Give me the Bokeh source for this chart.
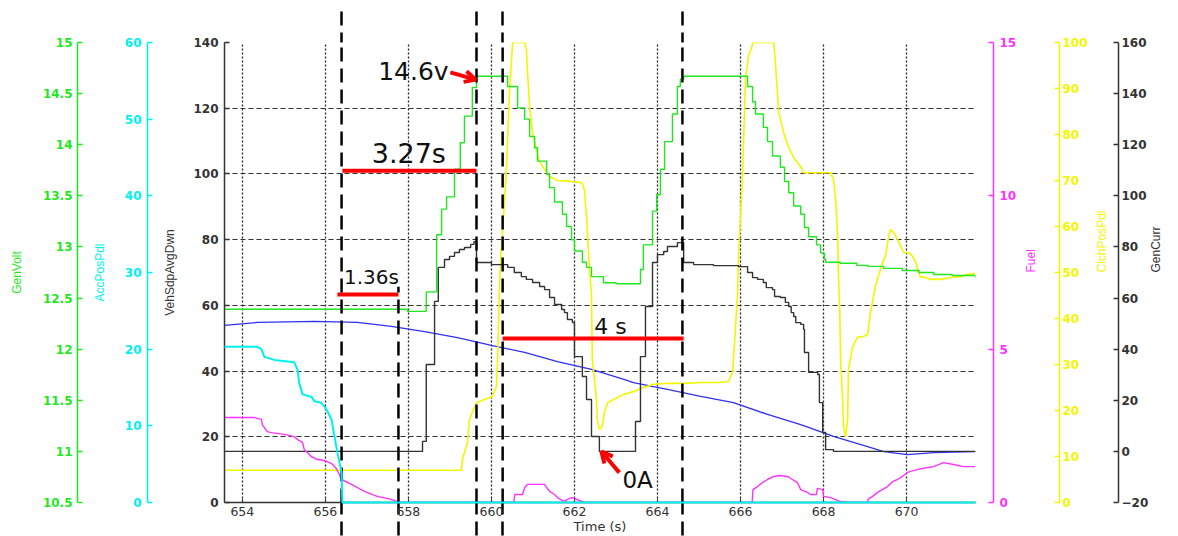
import math
from bokeh.plotting import figure
from bokeh.models import (Range1d, LinearAxis, FixedTicker, Arrow, OpenHead,
                          ColumnDataSource, CustomJSTickFormatter)
from bokeh.core.properties import value
from bokeh.embed import file_html
from bokeh.resources import INLINE

# ---------------- data ----------------
x_ticks = [654, 656, 658, 660, 662, 664, 666, 668, 670]
veh_ticks = [0, 20, 40, 60, 80, 100, 120, 140]
volt_ticks = [10.5, 11, 11.5, 12, 12.5, 13, 13.5, 14, 14.5, 15]
acc_ticks = [0, 10, 20, 30, 40, 50, 60]
fuel_ticks = [0, 5, 10, 15]
clch_ticks = [0, 10, 20, 30, 40, 50, 60, 70, 80, 90, 100]
curr_ticks = [-20, 0, 20, 40, 60, 80, 100, 120, 140, 160]

gen_volt = [
    (653.57, 12.39), (657.98, 12.37), (658.43, 12.56), (658.68, 13.12), (658.80, 13.37),
    (658.92, 13.49), (659.11, 13.76), (659.25, 14.02), (659.35, 14.28), (659.54, 14.56),
    (659.64, 14.67), (660.39, 14.57), (660.63, 14.36), (660.80, 14.25), (660.92, 14.08),
    (661.04, 13.97), (661.11, 13.84), (661.33, 13.71), (661.40, 13.58), (661.52, 13.44),
    (661.71, 13.32), (661.81, 13.20), (661.93, 13.07), (662.00, 12.96), (662.19, 12.85),
    (662.29, 12.80), (662.41, 12.71), (662.70, 12.65), (663.00, 12.64), (663.59, 12.78),
    (663.66, 13.02), (663.88, 13.35), (663.98, 13.51), (664.07, 13.76), (664.17, 14.03),
    (664.36, 14.30), (664.48, 14.57), (664.55, 14.64), (664.63, 14.67), (666.17, 14.57),
    (666.29, 14.42), (666.36, 14.30), (666.55, 14.17), (666.65, 14.03), (666.77, 13.89),
    (666.96, 13.78), (667.06, 13.64), (667.16, 13.53), (667.28, 13.40), (667.45, 13.32),
    (667.54, 13.19), (667.64, 13.10), (667.83, 13.02), (667.93, 12.94), (668.02, 12.88),
    (668.05, 12.85), (668.40, 12.84), (668.80, 12.82), (669.06, 12.81), (669.45, 12.79),
    (669.90, 12.77), (670.30, 12.75), (670.65, 12.73), (671.10, 12.72), (671.66, 12.70)]

gen_curr = [
    (653.57, 0.0), (658.34, 3.9), (658.43, 34.0), (658.63, 58.7), (658.72, 72.0),
    (658.87, 75.1), (658.99, 76.3), (659.11, 77.8), (659.23, 79.0), (659.35, 79.8),
    (659.50, 81.0), (659.58, 82.1), (659.64, 73.9), (660.00, 73.1), (660.39, 72.0),
    (660.55, 70.0), (660.72, 68.4), (660.84, 67.3), (660.99, 66.1), (661.16, 64.5),
    (661.28, 63.3), (661.40, 60.2), (661.52, 57.5), (661.69, 55.5), (661.76, 54.3),
    (661.83, 51.6), (661.95, 50.4), (662.00, 37.1), (662.19, 29.3), (662.29, 20.3),
    (662.41, 5.8), (662.60, 0.0), (663.47, 11.7), (663.59, 37.1), (663.71, 56.7),
    (663.88, 73.9), (664.00, 77.0), (664.15, 78.2), (664.24, 80.2), (664.48, 81.7),
    (664.63, 73.9), (664.87, 73.1), (665.35, 72.7), (665.95, 72.3), (666.17, 70.0),
    (666.29, 68.0), (666.41, 67.3), (666.55, 66.1), (666.62, 64.1), (666.77, 63.3),
    (666.82, 60.6), (666.96, 60.2), (667.08, 58.3), (667.16, 56.7), (667.22, 54.3),
    (667.28, 52.8), (667.33, 50.4), (667.45, 49.7), (667.52, 47.7), (667.54, 38.7),
    (667.64, 30.9), (667.86, 30.1), (667.90, 19.1), (667.98, 7.4), (668.05, 0.7),
    (668.24, 0.0), (671.66, 0.0)]

veh_spd = [
    (653.57, 53.9), (654.36, 54.8), (655.75, 55.1), (656.77, 54.8), (657.59, 53.6),
    (658.39, 52.0), (659.18, 50.2), (660.00, 47.8), (660.80, 45.7), (661.59, 42.9),
    (662.41, 40.5), (663.21, 37.4), (663.42, 36.5), (664.24, 34.4), (665.04, 32.3),
    (665.83, 30.4), (666.65, 26.8), (667.45, 23.7), (668.24, 20.1), (669.06, 17.0),
    (669.45, 15.5), (670.02, 14.6), (670.65, 15.2), (671.66, 15.5)]

acc_pos = [
    (653.57, 20.3), (654.36, 20.3), (654.46, 20.0), (654.53, 19.0), (654.77, 18.6),
    (655.25, 18.3), (655.33, 17.3), (655.37, 15.6), (655.45, 14.1), (655.66, 13.8),
    (655.74, 13.2), (655.90, 13.0), (655.98, 12.5), (656.05, 11.9), (656.15, 10.8),
    (656.22, 8.6), (656.29, 6.5), (656.39, 3.9), (656.41, 0.0), (671.66, 0.0)]

fuel = [
    (653.57, 2.77), (654.29, 2.77), (654.46, 2.71), (654.48, 2.54), (654.60, 2.31),
    (654.70, 2.28), (655.01, 2.22), (655.25, 2.15), (655.33, 2.05), (655.45, 1.96),
    (655.49, 1.73), (655.66, 1.50), (655.81, 1.40), (655.98, 1.37), (656.15, 1.27),
    (656.27, 1.10), (656.39, 0.75), (656.63, 0.59), (656.94, 0.36), (657.25, 0.20),
    (657.59, 0.10), (657.74, 0.03), (657.80, 0.0),
    (660.54, 0.0), (660.56, 0.26), (660.75, 0.26), (660.80, 0.49), (660.87, 0.59),
    (661.28, 0.59), (661.33, 0.49), (661.40, 0.36), (661.52, 0.26), (661.59, 0.16),
    (661.76, 0.03), (661.83, 0.10), (661.93, 0.16), (662.00, 0.13), (662.19, 0.03),
    (662.25, 0.0),
    (666.28, 0.0), (666.30, 0.42), (666.41, 0.52), (666.53, 0.65), (666.65, 0.75),
    (666.80, 0.85), (666.96, 0.88), (667.13, 0.85), (667.25, 0.75), (667.37, 0.65),
    (667.45, 0.42), (667.61, 0.33), (667.69, 0.26), (667.83, 0.26), (667.85, 0.46),
    (667.98, 0.42), (668.00, 0.20), (668.17, 0.16), (668.41, 0.03), (668.65, 0.0),
    (669.06, 0.0), (669.07, 0.10), (669.18, 0.20), (669.30, 0.33), (669.42, 0.42),
    (669.54, 0.52), (669.66, 0.68), (669.78, 0.75), (669.90, 0.85), (670.02, 0.98),
    (670.27, 1.08), (670.51, 1.14), (670.65, 1.17), (670.89, 1.30), (671.13, 1.24),
    (671.37, 1.17), (671.66, 1.17)]

clutch = [
    (653.57, 7.0), (659.28, 7.0), (659.30, 9.4), (659.42, 13.0), (659.47, 18.0),
    (659.54, 19.6), (659.64, 21.7), (659.83, 22.4), (660.02, 23.0), (660.12, 25.2),
    (660.15, 31.1), (660.19, 45.7), (660.22, 52.8), (660.27, 59.3), (660.36, 72.4),
    (660.43, 88.3), (660.51, 100.0), (660.80, 100.0), (660.84, 98.5), (660.87, 93.5),
    (660.92, 86.1), (660.99, 80.4), (661.08, 76.7), (661.16, 74.1), (661.28, 72.4),
    (661.40, 70.9), (661.59, 70.0), (661.93, 69.8), (662.12, 69.6), (662.19, 69.3),
    (662.24, 68.0), (662.29, 62.2), (662.36, 51.0), (662.41, 45.0), (662.43, 31.1),
    (662.53, 22.4), (662.55, 18.0), (662.60, 15.9), (662.67, 16.5), (662.72, 19.6),
    (662.80, 21.7), (662.94, 22.4), (663.18, 23.5), (663.42, 24.1), (663.66, 25.0),
    (663.90, 25.7), (664.24, 25.9), (664.63, 25.9), (665.04, 26.1), (665.45, 26.1),
    (665.71, 26.3), (665.81, 28.3), (665.83, 31.1), (665.88, 38.3), (665.93, 45.7),
    (665.95, 52.8), (666.05, 71.7), (666.12, 92.0), (666.19, 97.0), (666.31, 100.0),
    (666.80, 100.0), (666.84, 95.7), (666.92, 84.8), (667.04, 80.4), (667.16, 77.2),
    (667.28, 75.0), (667.45, 73.0), (667.52, 71.7), (668.17, 71.7), (668.24, 70.2),
    (668.29, 65.9), (668.34, 57.8), (668.36, 48.9), (668.39, 42.0), (668.41, 31.1),
    (668.46, 22.4), (668.48, 16.5), (668.53, 14.3), (668.58, 18.0), (668.60, 28.9),
    (668.70, 33.9), (668.82, 35.9), (668.96, 36.1), (669.06, 36.5), (669.13, 41.3),
    (669.25, 47.0), (669.37, 50.7), (669.45, 52.8), (669.49, 53.5), (669.57, 57.8),
    (669.61, 59.3), (669.69, 58.7), (669.78, 57.2), (669.86, 55.7), (669.93, 54.3),
    (670.05, 54.3), (670.15, 53.5), (670.22, 52.2), (670.29, 50.0), (670.34, 48.9),
    (670.39, 49.1), (670.58, 48.5), (670.82, 48.5), (671.06, 48.9), (671.30, 49.1),
    (671.47, 49.6), (671.66, 49.8)]

# annotations (time in s, height in VehSdpAvgDwn units)
marker_t = [656.39, 657.76, 659.64, 660.27, 664.60]
marker_top = [140.0, 65.7, 140.0, 140.0, 140.0]
marker_bottom = [0.0, 0.0, 0.0, 0.0, 0.0]
marker_full_t = [656.39, 659.64, 660.27, 664.60]   # the ones that reach above the plot

span_t0 = [656.41, 656.29, 660.27]
span_t1 = [659.64, 657.76, 664.63]
span_y = [101.0, 63.3, 49.9]

note_text = ["3.27s", "1.36s", "4 s", "14.6v", "0A"]
note_t = [658.01, 657.11, 662.87, 658.12, 663.52]
note_y = [106.2, 68.5, 53.6, 131.2, 7.0]
note_size = ["27px", "20px", "22px", "25px", "23px"]

arrow_t0 = [659.01, 663.08]
arrow_y0 = [130.9, 9.1]
arrow_t1 = [659.62, 662.65]
arrow_y1 = [128.7, 15.5]

# ---------------- colours ----------------
GREEN = "#1fe81f"
CYAN = "#00f0f0"
BLACK = "#333333"
MAGENTA = "#ff33ff"
YELLOW = "#f5f500"
BLUE = "#3030f0"

p = figure(frame_width=751, frame_height=460, output_backend="svg", toolbar_location=None,
           x_range=Range1d(653.57, 671.66), y_range=Range1d(0, 140),
           min_border_left=224, min_border_right=203, min_border_top=42, min_border_bottom=34)
p.outline_line_color = None
p.background_fill_color = "white"
p.border_fill_color = "white"

p.extra_y_ranges = {
    "volt": Range1d(10.5, 15), "acc": Range1d(0, 60), "fuel": Range1d(0, 15),
    "clch": Range1d(0, 100), "curr": Range1d(-20, 160)}

# grids
p.xgrid.ticker = FixedTicker(ticks=x_ticks)
p.xgrid.grid_line_color = "#222222"
p.xgrid.grid_line_dash = "2 2"
p.xgrid.grid_line_width = 1.3
p.ygrid.ticker = FixedTicker(ticks=veh_ticks)
p.ygrid.grid_line_color = "#333333"
p.ygrid.grid_line_dash = "5 3"
p.ygrid.grid_line_width = 1


def style_axis(ax, color, ticks, standoff, label, label_standoff, flip=False):
    ax.ticker = FixedTicker(ticks=ticks)
    ax.axis_line_color = color
    ax.axis_line_width = 1.5
    ax.major_tick_line_color = color
    ax.major_tick_line_width = 1.5
    ax.major_tick_in = 5
    ax.major_tick_out = 0
    ax.minor_tick_line_color = None
    ax.major_label_text_color = color
    ax.major_label_text_font = "DejaVu Sans"
    ax.major_label_text_font_style = "bold"
    ax.major_label_text_font_size = "12px"
    ax.major_label_standoff = standoff
    ax.axis_label = label
    ax.axis_label_text_color = color
    ax.axis_label_text_font = "Liberation Sans"
    ax.axis_label_text_font_style = "normal"
    ax.axis_label_text_font_size = "12px"
    ax.axis_label_standoff = label_standoff
    if flip:
        try:
            ax.axis_label_orientation = math.pi / 2
        except Exception:
            pass


def spacer(size):
    # one invisible tick with an empty label: the outward tick length is the gap
    return LinearAxis(ticker=FixedTicker(ticks=[70]),
                      formatter=CustomJSTickFormatter(code="return '';"),
                      axis_line_color=None, major_tick_line_color=None,
                      minor_tick_line_color=None, major_tick_in=0, major_tick_out=size,
                      major_label_standoff=0, major_label_text_font_size="1px",
                      axis_label=None)


# left axes (innermost first)
style_axis(p.yaxis[0], BLACK, veh_ticks, 6, "VehSdpAvgDwn", 13)
acc_axis = LinearAxis(y_range_name="acc")
style_axis(acc_axis, CYAN, acc_ticks, 6, "AccPosPdl", 15)
volt_axis = LinearAxis(y_range_name="volt",
                       formatter=CustomJSTickFormatter(code="return tick.toString();"))
style_axis(volt_axis, GREEN, volt_ticks, 5, "GenVolt", 16)

p.add_layout(spacer(13), "left")
p.add_layout(acc_axis, "left")
p.add_layout(spacer(12), "left")
p.add_layout(volt_axis, "left")

# right axes (innermost first)
fuel_axis = LinearAxis(y_range_name="fuel")
style_axis(fuel_axis, MAGENTA, fuel_ticks, 6, "Fuel", 12, flip=True)
clch_axis = LinearAxis(y_range_name="clch")
style_axis(clch_axis, YELLOW, clch_ticks, 3, "ClchPosPdl", 11, flip=True)
curr_axis = LinearAxis(y_range_name="curr")
style_axis(curr_axis, BLACK, curr_ticks, 3, "GenCurr", 5, flip=True)

p.add_layout(spacer(18), "right")
p.add_layout(fuel_axis, "right")
p.add_layout(spacer(11), "right")
p.add_layout(clch_axis, "right")
p.add_layout(curr_axis, "right")

# x axis; its minor ticks carry the marker dashes below the plot
xa = p.xaxis[0]
xa.ticker = FixedTicker(ticks=x_ticks, minor_ticks=marker_t)
xa.axis_line_color = BLACK
xa.axis_line_width = 1.5
xa.major_tick_line_color = BLACK
xa.major_tick_in = 4
xa.major_tick_out = 0
xa.minor_tick_line_color = "black"
xa.minor_tick_line_width = 2.5
xa.minor_tick_line_dash = "14 7"
xa.minor_tick_in = 0
xa.major_label_text_color = BLACK
xa.major_label_text_font = "DejaVu Sans"
xa.major_label_text_font_size = "12.5px"
xa.axis_label = "Time (s)"
xa.axis_label_text_color = BLACK
xa.axis_label_text_font = "DejaVu Sans"
xa.axis_label_text_font_style = "normal"
xa.axis_label_text_font_size = "13px"
xa.axis_label_standoff = 0
try:
    # long outward minor ticks, with the labels pulled back up by the same amount
    xa.major_label_standoff = 4 - 33
    xa.minor_tick_out = 33
except Exception:
    xa.major_label_standoff = 4
    xa.minor_tick_out = 0

# top: marker dashes continuing above the plot, drawn as long outward ticks
top_marks = LinearAxis(ticker=FixedTicker(ticks=marker_full_t),
                       formatter=CustomJSTickFormatter(code="return '';"),
                       axis_line_color=None, major_tick_line_color="black",
                       major_tick_line_width=2.5, major_tick_line_dash="14 7",
                       minor_tick_line_color=None, major_tick_in=0, major_tick_out=31,
                       major_label_standoff=0, major_label_text_font_size="1px",
                       axis_label=None)
p.add_layout(top_marks, "above")


def cols(pairs):
    t, v = zip(*pairs)
    return ColumnDataSource(data=dict(t=list(t), v=list(v)))


# series
p.line("t", "v", source=cols(veh_spd), line_color=BLUE, line_width=1.3)
p.line("t", "v", source=cols(clutch), y_range_name="clch", line_color=YELLOW, line_width=1.6)
p.step("t", "v", source=cols(gen_volt), y_range_name="volt", mode="after",
       line_color=GREEN, line_width=1.4)
p.step("t", "v", source=cols(gen_curr), y_range_name="curr", mode="after",
       line_color=BLACK, line_width=1.4)
p.line("t", "v", source=cols(fuel), y_range_name="fuel", line_color=MAGENTA, line_width=1.4)
acc_r = p.line("t", "v", source=cols(acc_pos), y_range_name="acc", line_color=CYAN,
               line_width=2)
acc_r.level = "overlay"

# red interval bars
p.segment(x0=span_t0, x1=span_t1, y0=span_y, y1=span_y, line_color="red", line_width=4)

# black dashed marker lines inside the plot
for t, y0, y1 in zip(marker_t, marker_bottom, marker_top):
    p.add_layout(Arrow(end=None, x_start=t, y_start=y0, x_end=t, y_end=y1,
                       line_color="black", line_width=2.5, line_dash="14 7"))

# red arrows
for x0, y0, x1, y1 in zip(arrow_t0, arrow_y0, arrow_t1, arrow_y1):
    p.add_layout(Arrow(end=OpenHead(size=11, line_color="red", line_width=4),
                       x_start=x0, y_start=y0, x_end=x1, y_end=y1,
                       line_color="red", line_width=4))

notes = ColumnDataSource(data=dict(t=note_t, y=note_y, text=note_text, fs=note_size))
p.text("t", "y", text="text", source=notes, text_font=value("DejaVu Sans"),
       text_font_size="fs", text_align="center", text_baseline="middle",
       text_color="#111111")

open("out.html", "w").write(file_html(p, INLINE))
